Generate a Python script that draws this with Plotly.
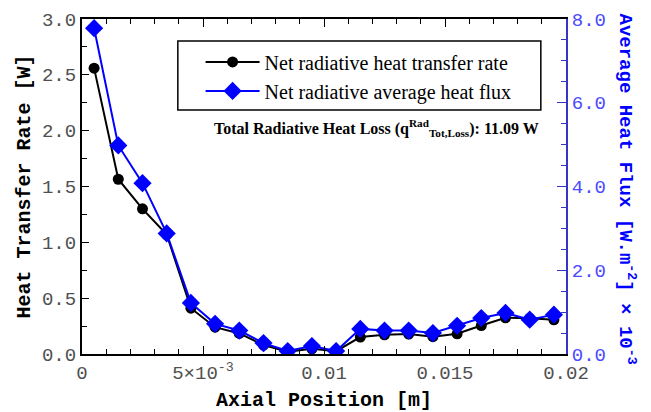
import plotly.graph_objects as go

# ---- data ----
axial_position = [0.0005, 0.0015, 0.0025, 0.0035, 0.0045, 0.0055, 0.0065, 0.0075, 0.0085, 0.0095,
                  0.0105, 0.0115, 0.0125, 0.0135, 0.0145, 0.0155, 0.0165, 0.0175, 0.0185, 0.0195]
heat_transfer_rate = [2.56, 1.565, 1.30, 1.07, 0.41, 0.24, 0.184, 0.08, 0.02, 0.046,
                      0.025, 0.152, 0.172, 0.178, 0.155, 0.181, 0.255, 0.324, 0.32, 0.306]
avg_heat_flux = [7.78, 4.98, 4.08, 2.88, 1.22, 0.72, 0.56, 0.26, 0.07, 0.19,
                 0.07, 0.60, 0.56, 0.56, 0.50, 0.675, 0.86, 0.98, 0.82, 0.94]

x_tickvals = [0, 0.005, 0.01, 0.015, 0.02]
x_ticktext = ["0", "5×10<sup>-3</sup>", "0.01", "0.015", "0.02"]

name_rate = "Net radiative heat transfer rate"
name_flux = "Net radiative average heat flux"
note_text = "<b>Total Radiative Heat Loss (q<sup>Rad</sup><sub>Tot,Loss</sub>): 11.09 W</b>"

MONO = "Liberation Mono"
SERIF = "Liberation Serif"
BLUE = "#0000ff"
AXBLUE = "#3535c8"

fig = go.Figure()
fig.add_trace(go.Scatter(
    x=axial_position, y=heat_transfer_rate, name=name_rate, mode="lines+markers",
    line=dict(color="black", width=2),
    marker=dict(symbol="circle", size=11, color="black"),
    yaxis="y"))
fig.add_trace(go.Scatter(
    x=axial_position, y=avg_heat_flux, name=name_flux, mode="lines+markers",
    line=dict(color=BLUE, width=2),
    marker=dict(symbol="diamond", size=14, color=BLUE),
    yaxis="y2"))

fig.update_layout(
    width=651, height=412,
    margin=dict(l=82, r=85, t=19, b=58),
    paper_bgcolor="white", plot_bgcolor="white",
    showlegend=True,
    legend=dict(
        x=0.245, y=0.93, xanchor="left", yanchor="top",
        bgcolor="rgba(0,0,0,0)", borderwidth=0,
        font=dict(family=SERIF, size=20, color="black"),
        itemwidth=54, tracegroupgap=0,
    ),
    xaxis=dict(
        range=[0, 0.02], showgrid=False, zeroline=False, automargin=False,
        showline=True, linecolor="black", linewidth=2, mirror="ticks",
        ticks="inside", ticklen=8, tickwidth=1, tickcolor="black",
        tickmode="array", tickvals=x_tickvals, ticktext=x_ticktext,
        minor=dict(dtick=0.001, tick0=0, ticks="inside", ticklen=5, tickcolor="black", tickwidth=1, showgrid=False),
        tickfont=dict(family=MONO, size=19, color="#505050"),
        title=dict(text="<b>Axial Position [m]</b>", font=dict(family=MONO, size=20, color="black"), standoff=15),
    ),
    yaxis=dict(
        range=[0, 3], showgrid=False, zeroline=False, automargin=False,
        showline=True, linecolor="black", linewidth=2, mirror=False,
        ticks="inside", ticklen=7, tickwidth=1, tickcolor="black",
        dtick=0.5, tick0=0, tickformat=".1f",
        minor=dict(dtick=0.25, ticks="inside", ticklen=5, tickcolor="black", tickwidth=1, showgrid=False),
        tickfont=dict(family=MONO, size=19, color="#505050"),
        title=dict(text="<b>Heat Transfer Rate [W]</b>", font=dict(family=MONO, size=20, color="black"), standoff=6),
    ),
    yaxis2=dict(
        range=[0, 8], overlaying="y", side="right", showgrid=False, zeroline=False, automargin=False,
        showline=True, linecolor=AXBLUE, linewidth=2,
        ticks="inside", ticklen=9, tickwidth=1, tickcolor=AXBLUE,
        dtick=2, tick0=0, tickformat=".1f",
        minor=dict(dtick=0.5, ticks="inside", ticklen=5, tickcolor=AXBLUE, tickwidth=1, showgrid=False),
        tickfont=dict(family=MONO, size=19, color="#4a4aff"),
    ),
    annotations=[
        dict(text=note_text, xref="paper", yref="paper", x=0.948, y=0.675,
             xanchor="right", yanchor="middle", showarrow=False,
             font=dict(family=SERIF, size=16, color="black")),
        dict(text="<b>Average Heat Flux [W.m<sup>-2</sup>] × 10<sup>-3</sup></b>",
             xref="paper", yref="paper", x=1.0, xshift=60, y=0.5, yshift=-2,
             xanchor="center", yanchor="middle", textangle=90, showarrow=False,
             font=dict(family=MONO, size=19, color=BLUE)),
    ],
    shapes=[
        dict(type="rect", xref="paper", yref="paper", x0=0.198, x1=0.948, y0=0.728, y1=0.934,
             line=dict(color="black", width=1.5), fillcolor="rgba(0,0,0,0)", layer="above"),
    ],
)

fig.write_html("out.html")
